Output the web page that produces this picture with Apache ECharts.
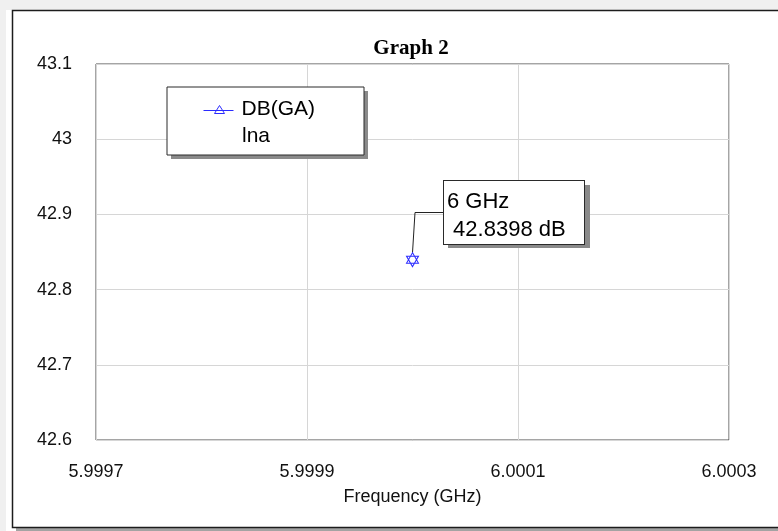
<!DOCTYPE html>
<html>
<head>
<meta charset="utf-8">
<script src="https://cdn.jsdelivr.net/npm/echarts@6/dist/echarts.min.js"></script>
<style>
  html, body { margin: 0; padding: 0; background: #f0f0f0; }
  #chart { width: 778px; height: 531px; }
</style>
</head>
<body>
<div id="chart"></div>
<script>
// Measured trace: available gain of the LNA
const freqGHz = [6];
const gainDB = [42.8398];

const traceName = 'DB(GA)';
const docName = 'lna';
const graphTitle = 'Graph 2';
const xAxisTitle = 'Frequency (GHz)';

// Axis ranges and labelled ticks
const xRange = [5.9997, 6.0003];
const xStep = 0.0001;
const xLabelled = [5.9997, 5.9999, 6.0001, 6.0003];
const yRange = [42.6, 43.1];
const yStep = 0.1;

const traceColor = '#2b2bff';
const shadowColor = '#8a8a8a';
const sansFont = 'Arial, "Liberation Sans", sans-serif';

// Hexagram marker (two hollow triangles)
const starSymbol = 'path://M0,0L10,17.32L-10,17.32Z M0,23.09L10,5.77L-10,5.77Z';
// Legend icon: trace line with a hollow triangle
const legendIcon = 'path://M0,5L30,5M11,8L16,0L21,8Z';

// Legend box and marker callout box (drop shadows are drawn behind them)
const legendBox = { x: 167, y: 87, w: 197, h: 68 };
const calloutBox = { x: 444, y: 181, w: 142, h: 63 };

const chart = echarts.init(document.getElementById('chart'), null, { renderer: 'canvas' });

const isLabelled = v => xLabelled.some(t => Math.abs(t - v) < xStep / 10);

chart.setOption({
  backgroundColor: '#f0f0f0',
  animation: false,
  graphic: [
    // sheet with its frame and bottom shadow
    { type: 'rect', z: -20, shape: { x: 6, y: 10, width: 772, height: 521 }, style: { fill: '#ffffff' } },
    { type: 'rect', z: -19, shape: { x: 16, y: 528, width: 762, height: 3 }, style: { fill: '#a3a3a3' } },
    { type: 'polyline', z: -18, shape: { points: [[790, 10.5], [12.5, 10.5], [12.5, 527.5], [790, 527.5]] },
      style: { stroke: '#1c1c1c', lineWidth: 1.5, fill: null } },
    // drop shadows
    { type: 'rect', z: 3, silent: true,
      shape: { x: legendBox.x + 4, y: legendBox.y + 4, width: legendBox.w, height: legendBox.h },
      style: { fill: shadowColor } },
    { type: 'rect', z: 1, silent: true,
      shape: { x: calloutBox.x + 4, y: calloutBox.y + 4, width: calloutBox.w, height: calloutBox.h },
      style: { fill: shadowColor } },
    // second legend line: document name
    { type: 'text', z: 10, left: 242, top: 126,
      style: { text: docName, font: '21px ' + sansFont, fill: '#000' } }
  ],
  title: {
    text: graphTitle,
    left: 406,
    top: 33,
    textAlign: 'center',
    textStyle: { fontFamily: '"Liberation Serif", "Times New Roman", serif', fontWeight: 'bold', fontSize: 21, color: '#000' }
  },
  legend: {
    left: legendBox.x,
    top: legendBox.y,
    orient: 'vertical',
    data: [{ name: traceName, icon: legendIcon }],
    itemWidth: 36,
    itemHeight: 8,
    padding: [12, 49, 35, 36],
    backgroundColor: '#ffffff',
    borderColor: '#2a2a2a',
    borderWidth: 1,
    borderRadius: 0,
    selectedMode: false,
    itemStyle: { color: 'rgba(0,0,0,0)', borderColor: traceColor, borderWidth: 1 },
    textStyle: { fontFamily: sansFont, fontSize: 21, color: '#000' }
  },
  grid: {
    left: 96, top: 64, right: 49, bottom: 91,
    show: true,
    backgroundColor: '#ffffff',
    borderColor: '#4a4a4a',
    borderWidth: 1
  },
  xAxis: {
    type: 'value',
    min: xRange[0],
    max: xRange[1],
    interval: xStep,
    name: xAxisTitle,
    nameLocation: 'middle',
    nameGap: 48,
    nameTextStyle: { fontFamily: sansFont, fontSize: 18, color: '#111' },
    axisLine: { show: false },
    axisTick: { show: false },
    axisLabel: {
      margin: 23,
      fontFamily: sansFont,
      fontSize: 18,
      color: '#111',
      showMinLabel: true,
      showMaxLabel: true,
      formatter: v => (isLabelled(v) ? v.toFixed(4) : '')
    },
    splitLine: { show: true, lineStyle: { color: ['#d6d6d6', 'rgba(0,0,0,0)'], width: 1 } }
  },
  yAxis: {
    type: 'value',
    min: yRange[0],
    max: yRange[1],
    interval: yStep,
    axisLine: { show: false },
    axisTick: { show: false },
    axisLabel: {
      margin: 24,
      fontFamily: sansFont,
      fontSize: 18,
      color: '#111',
      showMinLabel: true,
      showMaxLabel: true,
      formatter: v => String(Math.round(v * 10) / 10)
    },
    splitLine: { show: true, lineStyle: { color: '#d6d6d6', width: 1 } }
  },
  series: [{
    type: 'line',
    name: traceName,
    data: freqGHz.map((f, i) => [f, gainDB[i]]),
    symbol: starSymbol,
    symbolSize: [12, 14],
    showSymbol: true,
    itemStyle: { color: 'rgba(0,0,0,0)', borderColor: traceColor, borderWidth: 1 },
    lineStyle: { color: traceColor, width: 1 },
    label: {
      show: true,
      formatter: p => `${p.value[0]} GHz\n ${p.value[1]} dB`,
      fontFamily: sansFont,
      fontSize: 22,
      lineHeight: 28,
      color: '#000',
      backgroundColor: '#ffffff',
      borderColor: '#2a2a2a',
      borderWidth: 1,
      padding: [7, 17, 0, 3],
      width: 120,
      overflow: 'none'
    },
    labelLayout: { x: calloutBox.x, y: calloutBox.y, align: 'left', verticalAlign: 'top' },
    labelLine: { show: true, length2: 28, lineStyle: { color: '#222', width: 1 } }
  }]
});
</script>
</body>
</html>
